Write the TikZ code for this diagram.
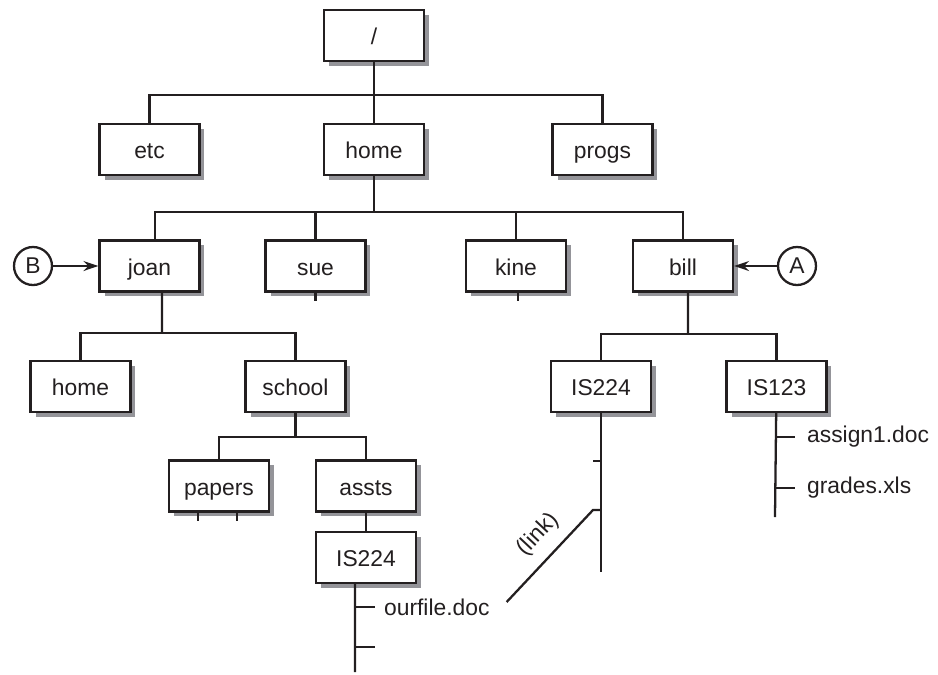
\documentclass[tikz,border=0pt]{standalone}
\usepackage{fontspec}
\setmainfont{Liberation Sans}
\usetikzlibrary{arrows.meta,shadows}
\definecolor{ink}{RGB}{35,31,32}
\definecolor{shade}{RGB}{148,148,153}
\begin{document}
\begin{tikzpicture}[x=0.02cm, y=-0.02cm, >={Stealth[length=0.3cm,width=0.2cm,inset=0.1cm]},
    line width=1.3pt, color=ink, font=\fontsize{13pt}{15pt}\selectfont,
    folder/.style={draw=ink, fill=white, minimum width=2.0cm, minimum height=1.02cm, inner sep=0pt,
        text height=11.4pt, text depth=0.8pt,
        drop shadow={shadow xshift=0.1cm, shadow yshift=-0.09cm, fill=shade, opacity=1}},
    fname/.style={anchor=west, inner sep=0pt},
    ptr/.style={circle, draw=ink, minimum size=0.76cm, inner sep=0pt}]
    \useasboundingbox (0,0) rectangle (938,674);
    \node[folder] (root) at (374,35.5) {/};
    \node[folder] (etc) at (149.5,149.5) {etc};
    \node[folder] (home) at (374,149.5) {home};
    \node[folder] (progs) at (602.5,149.5) {progs};
    \node[folder] (joan) at (149.5,266) {joan};
    \node[folder] (sue) at (315.5,266) {sue};
    \node[folder] (kine) at (516,266) {kine};
    \node[folder] (bill) at (683,266) {bill};
    \node[folder] (jhome) at (80.5,386.5) {home};
    \node[folder] (school) at (295.5,386.5) {school};
    \node[folder] (papers) at (219,486) {papers};
    \node[folder] (assts) at (366,486) {assts};
    \node[folder] (sis) at (366,557.5) {IS224};
    \node[folder] (bis) at (601,386.5) {IS224};
    \node[folder] (bic) at (776.5,386.5) {IS123};
    \node[ptr] (B) at (33,266) {B};
    \node[ptr] (A) at (797,266) {A};
    \node[fname] (ourfile) at (383,607) {ourfile.doc};
    \node[fname] (assign) at (806,437) {assign1.doc};
    \node[fname] (grades) at (806,488) {grades.xls};
    \coordinate (b1) at (374,95);
    \coordinate (b2) at (374,212);
    \coordinate (b3) at (162,333);
    \coordinate (b4) at (295.5,437);
    \coordinate (b5) at (688,334);
    \coordinate (sEnd) at (355,672);
    \coordinate (bEnd) at (601,572);
    \coordinate (cEnd) at (775,517);
    \coordinate (lnk) at (593,510);
    \draw (root) -- (b1);
    \draw (etc) |- (b1) -| (progs);
    \draw (b1) -- (home);
    \draw (home) -- (b2);
    \draw ([xshift=0.11cm]joan.north) |- (b2) -| (bill);
    \draw (sue) -- (sue |- b2);
    \draw (kine) -- (kine |- b2);
    \draw (sue.south) -- ++(0,8);
    \draw ([xshift=0.04cm]kine.south) -- ++(0,8);
    \draw ([xshift=0.25cm]joan.south) -- (b3);
    \draw (jhome) |- (b3) -| (school);
    \draw (school) -- (b4);
    \draw (papers) |- (b4) -| (assts);
    \draw ([xshift=-0.42cm]papers.south) -- ++(0,8);
    \draw ([xshift=0.36cm]papers.south) -- ++(0,8);
    \draw (assts) -- (sis);
    \draw ([xshift=-0.22cm]sis.south) -- (sEnd);
    \draw (sEnd |- ourfile) -- ++(20,0);
    \draw (sEnd |- 0,647) -- ++(20,0);
    \draw ([xshift=0.1cm]bill.south) -- (b5);
    \draw (bis) |- (b5) -| (bic);
    \draw (bis) -- (bEnd);
    \draw (bEnd |- 0,461) -- ++(-8,0);
    \draw ([xshift=0.32cm,yshift=0.1cm]ourfile.east) -- (lnk) node[pos=0.56, sloped, above=3pt] {(link)} -- (bEnd |- lnk);
    \draw (bic) -- (cEnd);
    \draw (cEnd |- assign) -- ++(20,0);
    \draw (cEnd |- grades) -- ++(20,0);
    \draw[->] (B) -- (joan);
    \draw[->] (A) -- (bill);
\end{tikzpicture}
\end{document}
